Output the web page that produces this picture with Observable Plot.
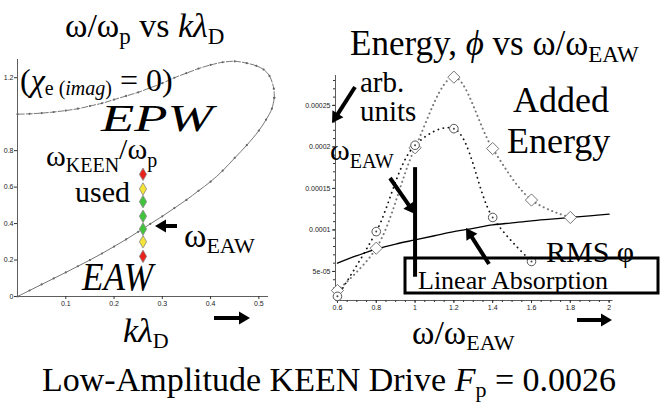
<!DOCTYPE html>
<html><head><meta charset="utf-8">
<script src="https://cdn.jsdelivr.net/npm/d3@7"></script>
<script src="https://cdn.jsdelivr.net/npm/@observablehq/plot@0.6"></script>
<style>
html,body{margin:0;padding:0;background:#fff;}
#root{position:relative;width:661px;height:405px;overflow:hidden;background:#fff;}
#left{position:absolute;left:0;top:0;}
#right{position:absolute;left:280px;top:0;}
#over{position:absolute;left:0;top:0;}
</style></head><body>
<div id="root"><div id="left"></div><div id="right"></div><svg id="over" width="661" height="405" font-family="Liberation Serif"></svg></div>
<script>
// ---------- Left chart data: dispersion relation omega/omega_p vs k*lambda_D ----------
const eawK = [0, 0.025, 0.05, 0.075, 0.1, 0.125, 0.15, 0.175, 0.2, 0.225, 0.25, 0.275, 0.3, 0.325, 0.35, 0.375, 0.4, 0.425, 0.45, 0.475, 0.5, 0.515, 0.527, 0.532];
const eawW = [0, 0.033, 0.066, 0.099, 0.132, 0.166, 0.2, 0.236, 0.274, 0.313, 0.355, 0.398, 0.44, 0.485, 0.53, 0.58, 0.63, 0.69, 0.76, 0.83, 0.91, 0.97, 1.03, 1.09];
const epwK = [0.532, 0.531, 0.522, 0.51, 0.495, 0.475, 0.45, 0.425, 0.4, 0.375, 0.35, 0.325, 0.3, 0.275, 0.25, 0.225, 0.2, 0.175, 0.15, 0.125, 0.1, 0.075, 0.05, 0.025, 0];
const epwW = [1.09, 1.14, 1.21, 1.245, 1.265, 1.28, 1.29, 1.285, 1.27, 1.25, 1.225, 1.2, 1.17, 1.145, 1.12, 1.1, 1.08, 1.06, 1.045, 1.03, 1.02, 1.012, 1.006, 1.002, 1.0];
const keenK = 0.26;
const keenW = [0.22, 0.30, 0.37, 0.44, 0.52, 0.59, 0.67];
const keenColor = ["#e8231c", "#f3e437", "#3fc43b", "#3fc43b", "#3fc43b", "#f3e437", "#e8231c"];
const leftXTicks = [0.1, 0.2, 0.3, 0.4, 0.5];
const leftYTicks = [0, 0.2, 0.4, 0.6, 0.8, 1.2];

// ---------- Right chart data: energy vs omega/omega_EAW ----------
const ratioDiamond = [0.6, 0.8, 1.0, 1.2, 1.4, 1.6, 1.8];
const energyDiamond = [2.7e-5, 7.8e-5, 1.99e-4, 2.84e-4, 1.98e-4, 1.36e-4, 1.15e-4];
const ratioCircle = [0.6, 0.8, 1.0, 1.2, 1.4, 1.6];
const energyCircle = [2.0e-5, 9.8e-5, 2.02e-4, 2.22e-4, 1.15e-4, 6.2e-5];
const rmsRatio = [0.6, 0.7, 0.8, 0.9, 1.0, 1.1, 1.2, 1.3, 1.4, 1.5, 1.6, 1.7, 1.8, 1.9, 2.0];
const rmsPhi = [6.0e-5, 6.9e-5, 7.7e-5, 8.3e-5, 8.8e-5, 9.3e-5, 9.8e-5, 1.02e-4, 1.06e-4, 1.085e-4, 1.11e-4, 1.13e-4, 1.15e-4, 1.17e-4, 1.19e-4];
const rightXTicks = [0.6, 0.8, 1, 1.2, 1.4, 1.6, 1.8, 2];
const rightYTicks = [5e-5, 1e-4, 1.5e-4, 2e-4, 2.5e-4];
const rightYLabels = ["5e-05", "0.0001", "0.00015", "0.0002", "0.00025"];
const eawMarker = {x: 1.0, y1: 4.3e-5, y2: 1.75e-4};

const axisStyle = {background: "transparent", fontFamily: "Liberation Sans", fontSize: "7px", color: "#222", overflow: "visible"};

// ---------- Left plot ----------
const eaw = eawK.map((k, i) => ({k, w: eawW[i]}));
const epw = epwK.map((k, i) => ({k, w: epwW[i]}));
const keen = keenW.map((w, i) => ({k: keenK, w, c: keenColor[i]}));

const left = Plot.plot({
  width: 280, height: 345,
  marginLeft: 17, marginRight: 12, marginTop: 59, marginBottom: 49,
  style: axisStyle,
  x: {domain: [0, 0.52], label: null},
  y: {domain: [0, 1.3], label: null},
  marks: [
    Plot.ruleX([0], {stroke: "#333", strokeWidth: 0.8}),
    Plot.ruleY([0], {stroke: "#333", strokeWidth: 0.8}),
    Plot.axisX({ticks: leftXTicks, tickSize: 3, tickPadding: 2, tickFormat: d => d.toFixed(1), label: null, stroke: "#333"}),
    Plot.axisY({ticks: leftYTicks, tickSize: 3, tickPadding: 1, tickFormat: d => d === 0 ? "0" : d.toFixed(1), label: null, stroke: "#333"}),
    Plot.line(eaw, {x: "k", y: "w", stroke: "#666", strokeWidth: 0.9, curve: "catmull-rom"}),
    Plot.line(epw, {x: "k", y: "w", stroke: "#666", strokeWidth: 0.9, strokeDasharray: "6,2", curve: "catmull-rom"}),
    Plot.dot(eaw, {x: "k", y: "w", r: 1.1, fill: "#666"}),
    Plot.dot(epw, {x: "k", y: "w", r: 1.1, fill: "#666"}),
    Plot.dot(keen, {x: "k", y: "w", symbol: "diamond", r: 3.8, fill: "c", stroke: "#888", strokeWidth: 0.8})
  ]
});
document.getElementById("left").appendChild(left);

// ---------- Right plot ----------
const dia = ratioDiamond.map((x, i) => ({x, y: energyDiamond[i]}));
const cir = ratioCircle.map((x, i) => ({x, y: energyCircle[i]}));
const rms = rmsRatio.map((x, i) => ({x, y: rmsPhi[i]}));

const right = Plot.plot({
  width: 381, height: 345,
  marginLeft: 55, marginRight: 48.5, marginTop: 75, marginBottom: 45,
  style: axisStyle,
  x: {domain: [0.59, 2.02], label: null},
  y: {domain: [1.5e-5, 2.86e-4], label: null},
  marks: [
    Plot.ruleX([0.59], {stroke: "#333", strokeWidth: 0.8}),
    Plot.ruleY([1.5e-5], {stroke: "#333", strokeWidth: 0.8}),
    Plot.axisX({ticks: d3.range(0.6, 2.001, 0.05), tickSize: 2, text: null, label: null, stroke: "#333"}),
    Plot.axisX({ticks: rightXTicks, tickSize: 3, tickPadding: 2, tickFormat: d3.format("~g"), label: null, stroke: "#333"}),
    Plot.axisY({ticks: d3.range(2e-5, 2.81e-4, 1e-5), tickSize: 2, text: null, label: null, stroke: "#333"}),
    Plot.axisY({ticks: rightYTicks, tickSize: 3, tickPadding: 2, tickFormat: (d, i) => rightYLabels[i], label: null, stroke: "#333"}),
    Plot.line(dia, {x: "x", y: "y", stroke: "#777", strokeWidth: 2, strokeDasharray: "0.1,4.5", strokeLinecap: "round", curve: "catmull-rom"}),
    Plot.line(cir, {x: "x", y: "y", stroke: "#111", strokeWidth: 1.8, strokeDasharray: "0.1,5", strokeLinecap: "round", curve: "catmull-rom"}),
    Plot.line(rms, {x: "x", y: "y", stroke: "#000", strokeWidth: 1.3, curve: "catmull-rom"}),
    Plot.ruleX([eawMarker], {x: "x", y1: "y1", y2: "y2", stroke: "#000", strokeWidth: 4}),
    Plot.dot(dia, {x: "x", y: "y", symbol: "diamond2", r: 5.5, stroke: "#666", fill: "white", strokeWidth: 0.9}),
    Plot.dot(cir, {x: "x", y: "y", r: 4.3, stroke: "#444", fill: "white", strokeWidth: 0.9}),
    Plot.dot(cir, {x: "x", y: "y", r: 1, fill: "#444"})
  ]
});
document.getElementById("right").appendChild(right);

// ---------- Annotations overlay ----------
const svg = d3.select("#over");
function arrow(x1, y1, x2, y2, w = 4, hl = 11, hw = 6.5) {
  const dx = x2 - x1, dy = y2 - y1, L = Math.hypot(dx, dy);
  const ux = dx / L, uy = dy / L, px = -uy, py = ux;
  const bx = x2 - ux * hl, by = y2 - uy * hl;
  svg.append("line").attr("x1", x1).attr("y1", y1).attr("x2", bx + ux).attr("y2", by + uy)
    .attr("stroke", "#000").attr("stroke-width", w);
  svg.append("path").attr("d", `M${x2},${y2}L${bx + px * hw},${by + py * hw}L${bx - px * hw},${by - py * hw}Z`).attr("fill", "#000");
}
arrow(177, 226, 155, 226);
arrow(214, 318, 250, 318);
arrow(355, 87, 332, 123);
arrow(390, 178, 415, 214);
arrow(489, 264, 466, 228);
arrow(577, 320, 612, 320);

svg.append("rect").attr("x", 405).attr("y", 258).attr("width", 253).attr("height", 35)
  .attr("fill", "none").attr("stroke", "#000").attr("stroke-width", 3);

function txt(x, y, size, parts, len) {
  const t = svg.append("text").attr("x", x).attr("y", y)
    .attr("font-family", "Liberation Serif")
    .attr("font-size", size).attr("fill", "#000");
  if (len) t.attr("textLength", len).attr("lengthAdjust", "spacingAndGlyphs");
  parts.forEach(p => {
    const s = t.append("tspan").text(p.t);
    if (p.i) s.attr("font-style", "italic");
    if (p.s) s.attr("font-size", p.s);
    if (p.dy) s.attr("dy", p.dy);
  });
  return t;
}
// left texts
txt(65, 37, 34, [{t: "ω/ω"}, {t: "p", s: 23, dy: 7}, {t: " vs ", dy: -7}, {t: "kλ", i: 1}, {t: "D", s: 23, dy: 7}]);
txt(20, 91, 32, [{t: "("}, {t: "χ", i: 1}, {t: "e ", s: 20, dy: 4}, {t: "(", s: 20}, {t: "imag", s: 20, i: 1}, {t: ")", s: 20}, {t: " = 0)", dy: -4}]);
txt(101, 131, 38, [{t: "EPW", i: 1}], 112);
txt(46, 166, 30, [{t: "ω"}, {t: "KEEN", s: 20, dy: 6}, {t: "/ω", dy: -13}, {t: "p", s: 20, dy: 8}]);
txt(75, 202, 30, [{t: "used"}]);
txt(184, 247, 34, [{t: "ω"}, {t: "EAW", s: 22, dy: 6}]);
txt(82, 290, 40, [{t: "EAW", i: 1}], 71);
txt(123, 342, 34, [{t: "kλ", i: 1}, {t: "D", s: 22, dy: 6}]);
// right texts
txt(350, 55, 35, [{t: "Energy, "}, {t: "ϕ", i: 1}, {t: "  vs ω/ω"}, {t: "EAW", s: 23, dy: 7}]);
txt(360, 92, 29, [{t: "arb."}]);
txt(360, 121, 29, [{t: "units"}]);
txt(513, 112, 36, [{t: "Added"}]);
txt(507, 153, 36, [{t: "Energy"}]);
txt(330, 160, 30, [{t: "ω"}, {t: "EAW", s: 20, dy: 8}]);
txt(546, 262, 30, [{t: "RMS φ"}]);
txt(418, 289, 26, [{t: "Linear Absorption"}]);
txt(412, 344, 34, [{t: "ω/ω"}, {t: "EAW", s: 22, dy: 6}]);
// bottom caption
txt(42, 391, 34, [{t: "Low-Amplitude KEEN Drive "}, {t: "F", i: 1}, {t: "p", s: 22, dy: 6}, {t: " = 0.0026", dy: -6}]);
</script>
</body></html>
